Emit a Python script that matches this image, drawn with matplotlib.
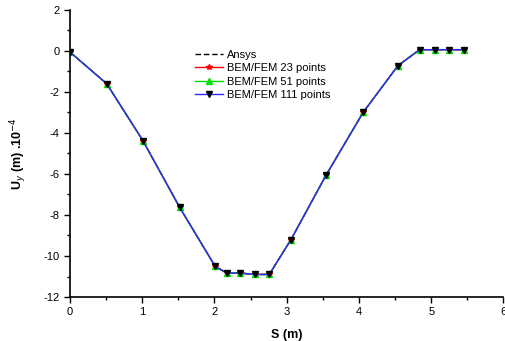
import matplotlib
matplotlib.use("Agg")
import numpy as np
from matplotlib import pyplot as plt
from matplotlib.ticker import MultipleLocator

plt.rcParams['font.family'] = ['Liberation Sans', 'DejaVu Sans']
plt.rcParams['axes.unicode_minus'] = False

# values
s_m = [0.0, 0.51, 1.01, 1.52, 2.01, 2.17, 2.35, 2.56, 2.76, 3.06, 3.55, 4.06, 4.54, 4.84, 5.05, 5.24, 5.45]
uy = [-0.05, -1.6, -4.37, -7.63, -10.5, -10.83, -10.83, -10.9, -10.9, -9.2, -6.03, -2.99, -0.72, 0.06, 0.06, 0.06, 0.06]

x_ticks = [0, 1, 2, 3, 4, 5, 6]
y_ticks = [2, 0, -2, -4, -6, -8, -10, -12]

fig = plt.figure(figsize=(5.06, 3.41), dpi=100)
ax = fig.add_axes([0.138, 0.129, 0.857, 0.842])

ax.plot(s_m, uy, color="black", linestyle=(0, (4, 2)), linewidth=1.0, label="Ansys")
ax.plot(s_m, uy, color="red", marker="*", markersize=4, linewidth=1.0, label="BEM/FEM 23 points")
ax.plot(s_m, uy, color="#00dd00", marker="^", markersize=4, linewidth=1.0, label="BEM/FEM 51 points")
ax.plot(s_m, uy, color="#2a2aff", marker="v", markersize=4, markerfacecolor="black",
        markeredgecolor="black", linewidth=1.0, label="BEM/FEM 111 points")

ax.set_xlim(0, 6)
ax.set_ylim(-12, 2)
ax.set_xticks(x_ticks)
ax.set_yticks(y_ticks)
ax.xaxis.set_minor_locator(MultipleLocator(0.5))
ax.yaxis.set_minor_locator(MultipleLocator(1))
ax.tick_params(which="both", labelsize=8, width=1)
ax.tick_params(which="major", length=4)
ax.tick_params(which="minor", length=2.5)

for side in ["top", "right"]:
    ax.spines[side].set_visible(False)
ax.spines["left"].set_linewidth(1.2)
ax.spines["bottom"].set_linewidth(1.2)

ax.set_xlabel("S (m)", fontsize=9, fontweight="bold", labelpad=8)
ax.set_ylabel("U$_y$ (m) .10$^{-4}$", fontsize=9, fontweight="bold", labelpad=10)

ax.legend(loc="upper left", bbox_to_anchor=(0.265, 0.895), frameon=False, fontsize=8,
          handlelength=2.5, handletextpad=0.4, labelspacing=0.3)

fig.savefig("out.png", dpi=100)
